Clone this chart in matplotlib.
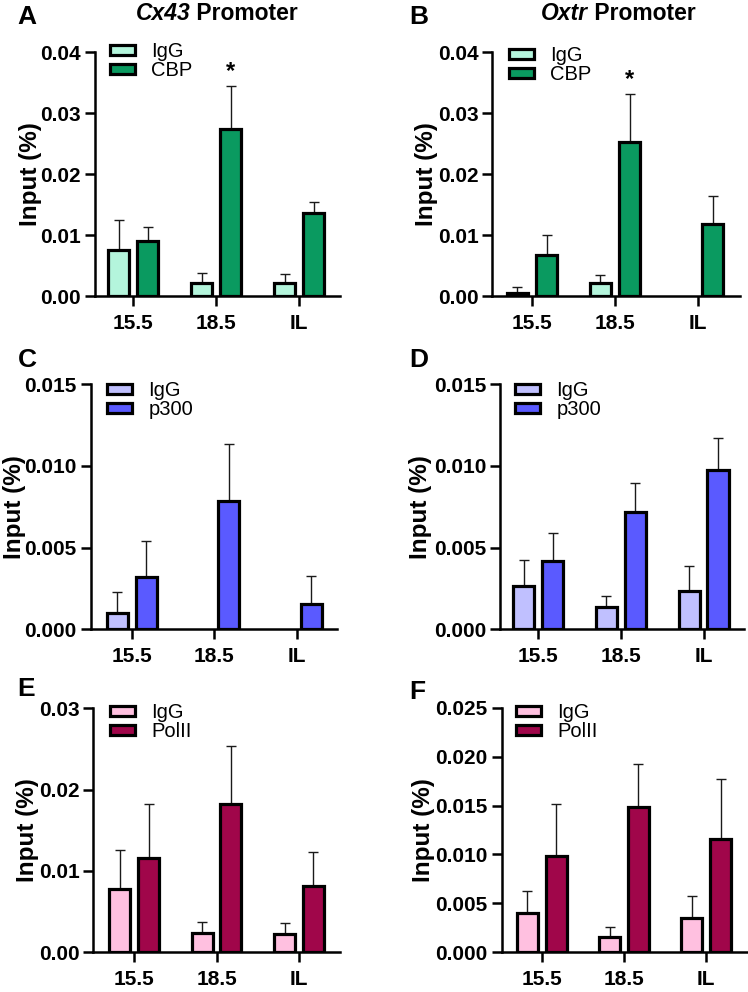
import numpy as np
import matplotlib
matplotlib.use("Agg")
import matplotlib.pyplot as plt
from matplotlib.patches import Patch

plt.rcParams['font.family'] = ['Liberation Sans', 'DejaVu Sans']

W, H = 748, 992
categories = ["15.5", "18.5", "IL"]

# Panel data (mean, upper error top)
A_igg = [0.00755, 0.00219, 0.00208]
A_igg_err = [0.01247, 0.00372, 0.00356]
A_cbp = [0.00908, 0.02736, 0.01357]
A_cbp_err = [0.01138, 0.03447, 0.01548]

B_igg = [0.00055, 0.00208, np.nan]
B_igg_err = [0.00142, 0.00345, np.nan]
B_cbp = [0.00673, 0.02533, 0.01182]
B_cbp_err = [0.01001, 0.03315, 0.01647]

C_igg = [0.00102, np.nan, np.nan]
C_igg_err = [0.00227, np.nan, np.nan]
C_p300 = [0.00322, 0.00788, 0.00155]
C_p300_err = [0.00541, 0.01135, 0.00329]

D_igg = [0.00267, 0.00139, 0.00235]
D_igg_err = [0.00424, 0.00204, 0.00390]
D_p300 = [0.00418, 0.00720, 0.00975]
D_p300_err = [0.00592, 0.00898, 0.01169]

E_igg = [0.00775, 0.00234, 0.00221]
E_igg_err = [0.01258, 0.00377, 0.00357]
E_pol = [0.01156, 0.01824, 0.00815]
E_pol_err = [0.01820, 0.02537, 0.01230]

F_igg = [0.00405, 0.00160, 0.00354]
F_igg_err = [0.00626, 0.00255, 0.00575]
F_pol = [0.00984, 0.01488, 0.01155]
F_pol_err = [0.01512, 0.01924, 0.01768]

fig = plt.figure(figsize=(W / 100, H / 100), dpi=100)

def px_axes(left, right, y0, ytop):
    return fig.add_axes([left / W, 1 - y0 / H, (right - left) / W, (y0 - ytop) / H])

def panel(pos, xlim, ymax, yticks, yfmt, igg, igg_err, tgt, tgt_err, names, colors,
          letter, letter_pos, legend_pos, ylabel_x, star=None):
    ax = px_axes(*pos)
    x = np.arange(len(categories))
    off, wd = 0.175, 0.255
    series = [(igg, igg_err, colors[0], -off), (tgt, tgt_err, colors[1], off)]
    for vals, errs, col, o in series:
        vals = np.array(vals, float)
        errs = np.array(errs, float)
        ax.errorbar(x + o, vals, yerr=[np.zeros_like(vals), errs - vals], fmt='none',
                    ecolor='#1a1a1a', elinewidth=1.0, capsize=3.3, capthick=1.0, zorder=1)
        ax.bar(x + o, vals, width=wd, color=col, edgecolor='black', linewidth=2.3, zorder=2)
    ax.set_xlim(*xlim)
    ax.set_ylim(0, ymax)
    ax.set_yticks(yticks)
    ax.set_yticklabels([yfmt.format(t) for t in yticks])
    ax.set_xticks(x)
    ax.set_xticklabels(categories)
    for s in ['top', 'right']:
        ax.spines[s].set_visible(False)
    for s in ['left', 'bottom']:
        ax.spines[s].set_linewidth(1.8)
    ax.tick_params(axis='both', width=1.8, length=7, labelsize=15)
    ax.tick_params(axis='y', pad=3)
    ax.tick_params(axis='x', pad=6)
    for lab in ax.get_xticklabels() + ax.get_yticklabels():
        lab.set_fontweight('bold')
    ax.set_ylabel('Input (%)', fontsize=17.5, fontweight='bold', va='center')
    left, right = pos[0], pos[1]
    ax.yaxis.set_label_coords((ylabel_x - left) / (right - left), 0.5)
    handles = [Patch(facecolor=colors[0], edgecolor='black', linewidth=2.3, label=names[0]),
               Patch(facecolor=colors[1], edgecolor='black', linewidth=2.3, label=names[1])]
    fig.legend(handles=handles, loc='upper left',
               bbox_to_anchor=(legend_pos[0] / W, 1 - legend_pos[1] / H),
               frameon=False, fontsize=14.5, handlelength=1.25, handleheight=0.35,
               handletextpad=0.8, labelspacing=0.0, borderpad=0, borderaxespad=0)
    fig.text(letter_pos[0] / W, 1 - letter_pos[1] / H, letter, fontsize=19,
             fontweight='bold', ha='left', va='center')
    if star is not None:
        i, top = star
        ax.annotate('*', xy=(x[i] + off, top), xytext=(0, 2), textcoords='offset points',
                    ha='center', va='bottom', fontsize=17, fontweight='bold')
    return ax

green = ['#b4f5dc', '#0a9a60']
blue = ['#c0c0ff', '#5a5aff']
red = ['#ffc0e0', '#a0064a']

panel((95, 340, 296, 52.3), (-0.458, 2.49), 0.04, [0, 0.01, 0.02, 0.03, 0.04], '{:.2f}',
      A_igg, A_igg_err, A_cbp, A_cbp_err, ['IgG', 'CBP'], green, 'A', (17, 17), (110, 42), 30,
      star=(1, A_cbp_err[1]))
panel((492.3, 740, 296, 52.3), (-0.478, 2.506), 0.04, [0, 0.01, 0.02, 0.03, 0.04], '{:.2f}',
      B_igg, B_igg_err, B_cbp, B_cbp_err, ['IgG', 'CBP'], green, 'B', (409, 17), (509, 46), 427,
      star=(1, B_cbp_err[1]))
panel((90.7, 336.7, 629.3, 384.3), (-0.497, 2.485), 0.015, [0, 0.005, 0.010, 0.015], '{:.3f}',
      C_igg, C_igg_err, C_p300, C_p300_err, ['IgG', 'p300'], blue, 'C', (18, 360), (107, 381), 15)
panel((500, 744, 629.3, 384.3), (-0.464, 2.49), 0.015, [0, 0.005, 0.010, 0.015], '{:.3f}',
      D_igg, D_igg_err, D_p300, D_p300_err, ['IgG', 'p300'], blue, 'D', (409, 360), (515, 381), 421)
panel((93.3, 340, 952.3, 708.3), (-0.496, 2.498), 0.03, [0, 0.01, 0.02, 0.03], '{:.2f}',
      E_igg, E_igg_err, E_pol, E_pol_err, ['IgG', 'PolII'], red, 'E', (17, 689), (110, 703), 27)
panel((501.7, 747, 952.3, 707.7), (-0.486, 2.494), 0.025, [0, 0.005, 0.010, 0.015, 0.020, 0.025], '{:.3f}',
      F_igg, F_igg_err, F_pol, F_pol_err, ['IgG', 'PolII'], red, 'F', (409, 692), (516, 703), 424)

# Titles: italic gene name + " Promoter"
fig.canvas.draw()
renderer = fig.canvas.get_renderer()
def title(cx, cy, gene):
    t1 = fig.text(0, 1 - cy / H, gene, fontsize=16.5, fontweight='bold', fontstyle='italic',
                  ha='left', va='center')
    t2 = fig.text(0, 1 - cy / H, ' Promoter', fontsize=16.5, fontweight='bold',
                  ha='left', va='center')
    w1 = t1.get_window_extent(renderer).width
    w2 = t2.get_window_extent(renderer).width
    start = cx - (w1 + w2) / 2
    t1.set_x(start / W)
    t2.set_x((start + w1) / W)

title(217, 14, 'Cx43')
title(618, 14, 'Oxtr')

fig.savefig('out.png', dpi=100)
